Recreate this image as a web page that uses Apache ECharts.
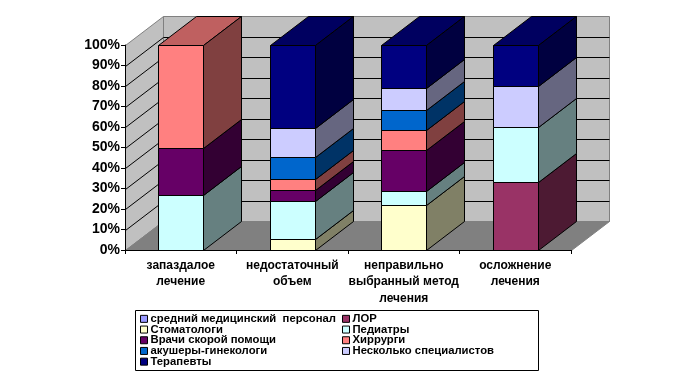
<!DOCTYPE html>
<html>
<head>
<meta charset="utf-8">
<style>
  html, body { margin: 0; padding: 0; background: #fff; }
  #chart { width: 676px; height: 380px; }
</style>
<script src="https://cdn.jsdelivr.net/npm/echarts@6/dist/echarts.min.js"></script>
</head>
<body>
<div id="chart"></div>
<script>
var categories = ['запаздалое\nлечение', 'недостаточный\nобъем', 'неправильно\nвыбранный метод\nлечения', 'осложнение\nлечения'];
var seriesNames = ['средний медицинский  персонал', 'ЛОР', 'Стоматологи', 'Педиатры', 'Врачи скорой помощи', 'Хиррурги', 'акушеры-гинекологи', 'Несколько специалистов', 'Терапевты'];
var seriesColors = ['#9999ff', '#993366', '#ffffcc', '#ccffff', '#660066', '#ff8080', '#0066cc', '#ccccff', '#000080'];

var medStaff = [0, 0, 0, 0];
var lor = [0, 0, 0, 33];
var dentists = [0, 5.2, 21.8, 0];
var pediatricians = [26.7, 18.9, 6.8, 26.8];
var ambulance = [23.3, 5.3, 20, 0];
var surgeons = [50, 5.4, 9.8, 0];
var obstetricians = [0, 10.7, 9.7, 0];
var severalSpecialists = [0, 13.8, 10.8, 20];
var therapists = [0, 40.7, 21.1, 20.2];
var seriesValues = [medStaff, lor, dentists, pediatricians, ambulance, surgeons, obstetricians, severalSpecialists, therapists];

var yTicks = [0, 10, 20, 30, 40, 50, 60, 70, 80, 90, 100];

var depthX = 38, depthY = -29;
var fontFamily = '"Liberation Sans", Arial, sans-serif';

function px(v) { return Math.round(v) + 0.5; }

function shade(hex, k) {
  var n = parseInt(hex.slice(1), 16);
  var r = Math.round((n >> 16 & 255) * k), g = Math.round((n >> 8 & 255) * k), b = Math.round((n & 255) * k);
  return 'rgb(' + r + ',' + g + ',' + b + ')';
}

// стенки и пол рисуем отдельной серией, от неё же линии сетки
function renderWalls(params, api) {
  var cs = params.coordSys;
  var x0 = px(cs.x), x1 = px(cs.x + cs.width), yb = px(cs.y + cs.height), yt = px(cs.y);
  var edge = { fill: '#c0c0c0', stroke: '#808080', lineWidth: 1 };
  var kids = [
    { type: 'polygon', shape: { points: [[x0, yb], [x0, yt], [x0 + depthX, yt + depthY], [x0 + depthX, yb + depthY]] }, style: edge },
    { type: 'polygon', shape: { points: [[x0 + depthX, yb + depthY], [x0 + depthX, yt + depthY], [x1 + depthX, yt + depthY], [x1 + depthX, yb + depthY]] }, style: edge },
    { type: 'polygon', shape: { points: [[x0, yb], [x0 + depthX, yb + depthY], [x1 + depthX, yb + depthY], [x1, yb]] }, style: { fill: '#808080', stroke: '#808080', lineWidth: 1 } }
  ];
  yTicks.slice(1, -1).forEach(function (t) {
    var y = px(api.coord([0, t])[1]);
    kids.push({ type: 'polyline', shape: { points: [[x0, y], [x0 + depthX, y + depthY], [x1 + depthX, y + depthY]] }, style: { fill: null, stroke: '#000', lineWidth: 1 } });
  });
  return { type: 'group', children: kids };
}

function makeBarRenderer(idx) {
  return function (params, api) {
    var cat = params.dataIndex;
    var val = seriesValues[idx][cat];
    if (!val) return null;
    var base = 0;
    for (var i = 0; i < idx; i++) base += seriesValues[i][cat];
    var low = api.coord([cat, base]);
    var high = api.coord([cat, base + val]);
    var w = api.size([1, 0])[0] * 0.405;
    var xl = px(low[0] - w / 2), xr = px(low[0] + w / 2);
    var yb = px(low[1]), yt = px(high[1]);
    var color = seriesColors[idx];
    var line = { stroke: '#000', lineWidth: 1 };
    return {
      type: 'group',
      children: [
        { type: 'polygon', shape: { points: [[xl, yt], [xl + depthX, yt + depthY], [xr + depthX, yt + depthY], [xr, yt]] }, style: Object.assign({ fill: shade(color, 0.75) }, line) },
        { type: 'polygon', shape: { points: [[xr, yb], [xr + depthX, yb + depthY], [xr + depthX, yt + depthY], [xr, yt]] }, style: Object.assign({ fill: shade(color, 0.5) }, line) },
        { type: 'polygon', shape: { points: [[xl, yb], [xl, yt], [xr, yt], [xr, yb]] }, style: Object.assign({ fill: color }, line) }
      ]
    };
  };
}

var series = [{
  type: 'custom',
  name: 'walls',
  silent: true,
  z: 1,
  data: [[0, 0]],
  renderItem: renderWalls
}];
seriesNames.forEach(function (name, idx) {
  series.push({
    type: 'custom',
    name: name,
    silent: true,
    z: 2 + idx,
    itemStyle: { color: seriesColors[idx] },
    data: seriesValues[idx].map(function (v, i) { return [i, v]; }),
    encode: { x: 0, y: 1 },
    renderItem: makeBarRenderer(idx)
  });
});

function legendBlock(names, left) {
  return {
    orient: 'vertical',
    left: left,
    top: 313,
    padding: 0,
    itemGap: -1,
    itemWidth: 7,
    itemHeight: 7,
    icon: 'rect',
    selectedMode: false,
    data: names,
    itemStyle: { borderColor: '#000', borderWidth: 1 },
    textStyle: { fontFamily: fontFamily, fontWeight: 'bold', fontSize: 11.3, color: '#000', lineHeight: 11.7, padding: [0, 0, 0, -2] }
  };
}

var chart = echarts.init(document.getElementById('chart'), null, { renderer: 'canvas' });
chart.setOption({
  animation: false,
  backgroundColor: '#fff',
  grid: { left: 125, top: 45, width: 446, height: 205, containLabel: false },
  xAxis: {
    type: 'category',
    data: categories,
    z: 30,
    axisLine: { lineStyle: { color: '#000', width: 1 } },
    axisTick: { show: true, length: 4, alignWithLabel: false, lineStyle: { color: '#000' } },
    axisLabel: { interval: 0, margin: 7, color: '#000', fontFamily: fontFamily, fontWeight: 'bold', fontSize: 12, lineHeight: 16.5 }
  },
  yAxis: {
    type: 'value',
    min: 0,
    max: 100,
    interval: 10,
    z: 30,
    splitLine: { show: false },
    axisLine: { show: true, lineStyle: { color: '#000', width: 1 } },
    axisTick: { show: true, length: 4, lineStyle: { color: '#000' } },
    axisLabel: { margin: 5, color: '#000', fontFamily: fontFamily, fontWeight: 'bold', fontSize: 14, formatter: '{value}%' }
  },
  legend: [
    legendBlock([seriesNames[0], seriesNames[2], seriesNames[4], seriesNames[6], seriesNames[8]], 140),
    legendBlock([seriesNames[1], seriesNames[3], seriesNames[5], seriesNames[7]], 342)
  ],
  graphic: [{
    type: 'rect',
    silent: true,
    shape: { x: 135.5, y: 310.5, width: 403, height: 60 },
    style: { fill: '#fff', stroke: '#000', lineWidth: 1 },
    z: -1
  }],
  series: series
});
</script>
</body>
</html>
